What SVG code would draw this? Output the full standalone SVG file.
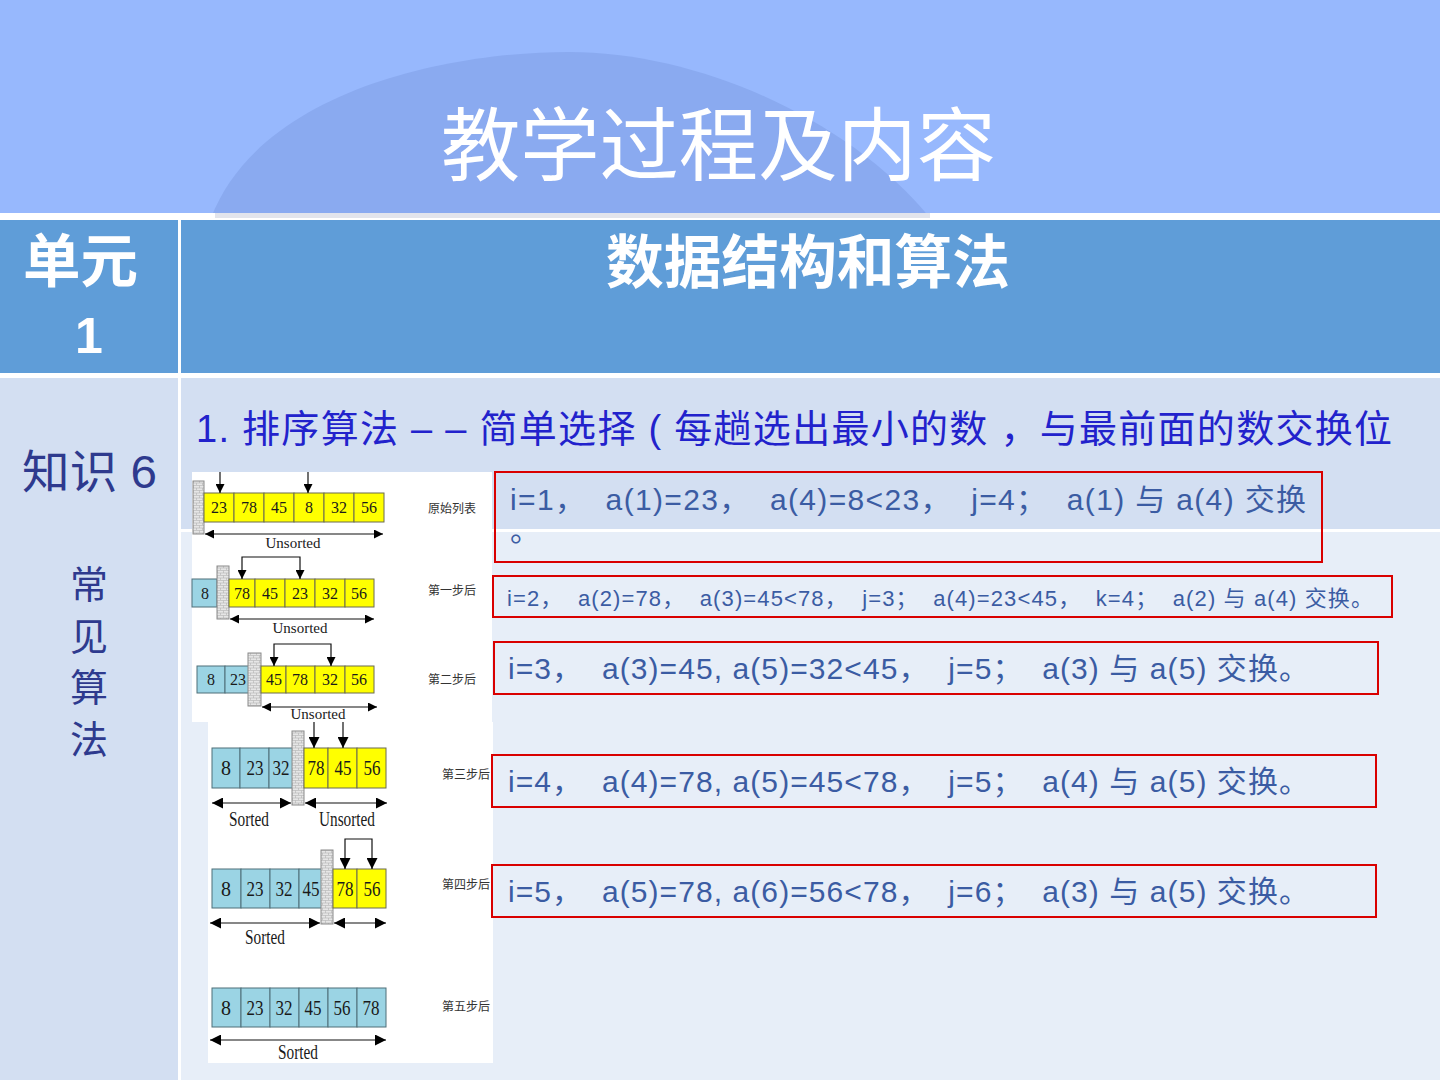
<svg xmlns="http://www.w3.org/2000/svg" width="1440" height="1080" viewBox="0 0 1440 1080">
<defs>
<style>
.cjk{font-family:"Noto Sans CJK SC","Liberation Sans",sans-serif}
.cell-y{fill:#FFFF00;stroke:#6b6b50;stroke-width:1}
.cell-b{fill:#9BD4E4;stroke:#4f6f78;stroke-width:1}
.wall{fill:url(#brick);stroke:#8a8a8a;stroke-width:1}
.num{font-family:"Liberation Serif",serif;fill:#1a1a1a;text-anchor:middle}
.n1{font-size:16px}
.n2{font-size:21px}
.cap{font-family:"Liberation Serif",serif;fill:#1a1a1a;text-anchor:middle}
.lbl{font-family:"Noto Sans CJK SC",sans-serif;font-size:12px;fill:#333}
.ln{stroke:#111;stroke-width:1.2;fill:none}
.red{fill:none;stroke:#D90000;stroke-width:2}
.step{font-family:"Liberation Sans","Noto Sans CJK SC",sans-serif;fill:#3B5CA3;white-space:pre}
.dk{font-family:"Liberation Sans","Noto Sans CJK SC",sans-serif;fill:#2E3A8E}
</style>
<pattern id="brick" width="6" height="5" patternUnits="userSpaceOnUse">
<rect width="6" height="5" fill="#E6E6E6"/>
<path d="M0 0.5H6M0 3H6M1.5 0.5V3M4.5 3V5" stroke="#B2B2B2" stroke-width="0.6" fill="none"/>
</pattern>
<marker id="ah" viewBox="0 0 10 10" refX="10" refY="5" markerWidth="11" markerHeight="9" markerUnits="userSpaceOnUse" orient="auto-start-reverse"><path d="M0 0L10 5L0 10z" fill="#000"/></marker>
<marker id="ahB" viewBox="0 0 10 10" refX="10" refY="5" markerWidth="14" markerHeight="11" markerUnits="userSpaceOnUse" orient="auto-start-reverse"><path d="M0 0L10 5L0 10z" fill="#000"/></marker>
</defs>

<g id="background">
<rect x="0" y="0" width="1440" height="1080" fill="#FFFFFF"/>
<rect x="0" y="0" width="1440" height="213" fill="#97B8FD"/>
<path d="M211 218C260 90 450 52 569 52C700 52 850 120 930 218Z" fill="#8AAAF0"/>
<rect x="0" y="213" width="1440" height="7" fill="#FFFFFF"/>
<rect x="215" y="213" width="715" height="5" fill="#E2E4EC"/>
</g>

<g id="title"><text class="cjk" x="441" y="174" font-size="80" fill="#FFFFFF" textLength="555" lengthAdjust="spacingAndGlyphs">教学过程及内容</text></g>

<g id="table">
<rect x="0" y="220" width="178" height="153" fill="#5F9DD8"/>
<rect x="181" y="220" width="1259" height="153" fill="#5F9DD8"/>
<rect x="0" y="378" width="178" height="702" fill="#D3DFF2"/>
<rect x="181" y="378" width="1259" height="151" fill="#D3DFF2"/>
<rect x="181" y="532" width="1259" height="548" fill="#E7EEF8"/>
</g>

<g id="header-unit">
<text class="cjk" x="23" y="282" font-size="58" font-weight="bold" fill="#FFFFFF" textLength="115" lengthAdjust="spacingAndGlyphs">单元</text>
<text x="89" y="353" font-family="Liberation Sans, sans-serif" font-size="50" font-weight="bold" fill="#FFFFFF" text-anchor="middle">1</text>
</g>
<g id="header-topic"><text class="cjk" x="606" y="283" font-size="58" font-weight="bold" fill="#FFFFFF" textLength="404" lengthAdjust="spacingAndGlyphs">数据结构和算法</text></g>

<g id="knowledge">
<text class="dk" x="22" y="488" font-size="46" textLength="135" lengthAdjust="spacingAndGlyphs">知识 6</text>
<text class="dk" x="89" y="598" font-size="38" text-anchor="middle">常</text>
<text class="dk" x="89" y="650" font-size="38" text-anchor="middle">见</text>
<text class="dk" x="89" y="701" font-size="38" text-anchor="middle">算</text>
<text class="dk" x="89" y="753" font-size="38" text-anchor="middle">法</text>
</g>

<g id="heading"><text x="196" y="442" font-family="Liberation Sans, Noto Sans CJK SC, sans-serif" font-size="38" fill="#2222CC" textLength="1196" lengthAdjust="spacing">1. 排序算法 – – 简单选择 ( 每趟选出最小的数 ，与最前面的数交换位</text></g>

<g id="sort-figure">
<rect x="192" y="472" width="300" height="250" fill="#FFFFFF"/>
<rect x="208" y="722" width="285" height="341" fill="#FFFFFF"/>

<g id="row0">
<rect class="wall" x="193" y="481" width="11" height="53"/>
<rect class="cell-y" x="204" y="493" width="30" height="29"/><rect class="cell-y" x="234" y="493" width="30" height="29"/><rect class="cell-y" x="264" y="493" width="30" height="29"/><rect class="cell-y" x="294" y="493" width="30" height="29"/><rect class="cell-y" x="324" y="493" width="30" height="29"/><rect class="cell-y" x="354" y="493" width="30" height="29"/>
<text class="num n1" x="219" y="513">23</text><text class="num n1" x="249" y="513">78</text><text class="num n1" x="279" y="513">45</text><text class="num n1" x="309" y="513">8</text><text class="num n1" x="339" y="513">32</text><text class="num n1" x="369" y="513">56</text>
<text class="cap" x="293" y="548" font-size="15">Unsorted</text>
<text class="lbl" x="428" y="513">原始列表</text>
</g>

<g id="row1">
<rect class="cell-b" x="192" y="579" width="25" height="28"/>
<rect class="wall" x="217" y="566" width="12" height="53"/>
<rect class="cell-y" x="229" y="579" width="26" height="28"/><rect class="cell-y" x="255" y="579" width="30" height="28"/><rect class="cell-y" x="285" y="579" width="30" height="28"/><rect class="cell-y" x="315" y="579" width="30" height="28"/><rect class="cell-y" x="345" y="579" width="29" height="28"/>
<text class="num n1" x="205" y="599">8</text><text class="num n1" x="242" y="599">78</text><text class="num n1" x="270" y="599">45</text><text class="num n1" x="300" y="599">23</text><text class="num n1" x="330" y="599">32</text><text class="num n1" x="359" y="599">56</text>
<text class="cap" x="300" y="633" font-size="15">Unsorted</text>
<text class="lbl" x="428" y="595">第一步后</text>
</g>

<g id="row2">
<rect class="cell-b" x="197" y="666" width="28" height="27"/><rect class="cell-b" x="225" y="666" width="25" height="27"/>
<rect class="wall" x="248" y="653" width="13" height="53"/>
<rect class="cell-y" x="261" y="666" width="25" height="27"/><rect class="cell-y" x="286" y="666" width="29" height="27"/><rect class="cell-y" x="315" y="666" width="30" height="27"/><rect class="cell-y" x="345" y="666" width="29" height="27"/>
<text class="num n1" x="211" y="685">8</text><text class="num n1" x="238" y="685">23</text><text class="num n1" x="274" y="685">45</text><text class="num n1" x="300" y="685">78</text><text class="num n1" x="330" y="685">32</text><text class="num n1" x="359" y="685">56</text>
<text class="cap" x="318" y="719" font-size="15">Unsorted</text>
<text class="lbl" x="428" y="684">第二步后</text>
</g>

<g id="row3">
<rect class="cell-b" x="212" y="748" width="28" height="40"/><rect class="cell-b" x="240" y="748" width="29" height="40"/><rect class="cell-b" x="269" y="748" width="24" height="40"/>
<rect class="wall" x="292" y="731" width="12" height="74"/>
<rect class="cell-y" x="304" y="748" width="24" height="40"/><rect class="cell-y" x="328" y="748" width="29" height="40"/><rect class="cell-y" x="357" y="748" width="29" height="40"/>
<text class="num n2" x="226" y="775" textLength="10" lengthAdjust="spacingAndGlyphs">8</text><text class="num n2" x="255" y="775" textLength="17" lengthAdjust="spacingAndGlyphs">23</text><text class="num n2" x="281" y="775" textLength="17" lengthAdjust="spacingAndGlyphs">32</text><text class="num n2" x="316" y="775" textLength="17" lengthAdjust="spacingAndGlyphs">78</text><text class="num n2" x="343" y="775" textLength="17" lengthAdjust="spacingAndGlyphs">45</text><text class="num n2" x="372" y="775" textLength="17" lengthAdjust="spacingAndGlyphs">56</text>
<text class="cap" x="249" y="826" font-size="20" textLength="40" lengthAdjust="spacingAndGlyphs">Sorted</text>
<text class="cap" x="347" y="826" font-size="20" textLength="56" lengthAdjust="spacingAndGlyphs">Unsorted</text>
<text class="lbl" x="442" y="779">第三步后</text>
</g>

<g id="row4">
<rect class="cell-b" x="212" y="869" width="29" height="39"/><rect class="cell-b" x="241" y="869" width="29" height="39"/><rect class="cell-b" x="270" y="869" width="29" height="39"/><rect class="cell-b" x="299" y="869" width="23" height="39"/>
<rect class="wall" x="321" y="850" width="12" height="74"/>
<rect class="cell-y" x="333" y="869" width="24" height="39"/><rect class="cell-y" x="357" y="869" width="29" height="39"/>
<text class="num n2" x="226" y="896" textLength="10" lengthAdjust="spacingAndGlyphs">8</text><text class="num n2" x="255" y="896" textLength="17" lengthAdjust="spacingAndGlyphs">23</text><text class="num n2" x="284" y="896" textLength="17" lengthAdjust="spacingAndGlyphs">32</text><text class="num n2" x="311" y="896" textLength="17" lengthAdjust="spacingAndGlyphs">45</text><text class="num n2" x="345" y="896" textLength="17" lengthAdjust="spacingAndGlyphs">78</text><text class="num n2" x="372" y="896" textLength="17" lengthAdjust="spacingAndGlyphs">56</text>
<text class="cap" x="265" y="944" font-size="20" textLength="40" lengthAdjust="spacingAndGlyphs">Sorted</text>
<text class="lbl" x="442" y="889">第四步后</text>
</g>

<g id="row5">
<rect class="cell-b" x="212" y="988" width="29" height="39"/><rect class="cell-b" x="241" y="988" width="29" height="39"/><rect class="cell-b" x="270" y="988" width="29" height="39"/><rect class="cell-b" x="299" y="988" width="29" height="39"/><rect class="cell-b" x="328" y="988" width="29" height="39"/><rect class="cell-b" x="357" y="988" width="29" height="39"/>
<text class="num n2" x="226" y="1015" textLength="10" lengthAdjust="spacingAndGlyphs">8</text><text class="num n2" x="255" y="1015" textLength="17" lengthAdjust="spacingAndGlyphs">23</text><text class="num n2" x="284" y="1015" textLength="17" lengthAdjust="spacingAndGlyphs">32</text><text class="num n2" x="313" y="1015" textLength="17" lengthAdjust="spacingAndGlyphs">45</text><text class="num n2" x="342" y="1015" textLength="17" lengthAdjust="spacingAndGlyphs">56</text><text class="num n2" x="371" y="1015" textLength="17" lengthAdjust="spacingAndGlyphs">78</text>
<text class="cap" x="298" y="1059" font-size="20" textLength="40" lengthAdjust="spacingAndGlyphs">Sorted</text>
<text class="lbl" x="442" y="1011">第五步后</text>
</g>
</g>

<g id="connectors">
<line class="ln" x1="220" y1="472" x2="220" y2="493" marker-end="url(#ah)"/>
<line class="ln" x1="308" y1="472" x2="308" y2="493" marker-end="url(#ah)"/>
<line class="ln" x1="205" y1="534" x2="383" y2="534" marker-start="url(#ah)" marker-end="url(#ah)"/>
<path class="ln" d="M242 579V557H300V579" marker-start="url(#ah)" marker-end="url(#ah)"/>
<line class="ln" x1="230" y1="619" x2="374" y2="619" marker-start="url(#ah)" marker-end="url(#ah)"/>
<path class="ln" d="M274 666V644H331V666" marker-start="url(#ah)" marker-end="url(#ah)"/>
<line class="ln" x1="262" y1="707" x2="377" y2="707" marker-start="url(#ah)" marker-end="url(#ah)"/>
<line class="ln" x1="314" y1="722" x2="314" y2="748" marker-end="url(#ahB)"/>
<line class="ln" x1="343" y1="722" x2="343" y2="748" marker-end="url(#ahB)"/>
<line class="ln" x1="212" y1="803" x2="291" y2="803" marker-start="url(#ahB)" marker-end="url(#ahB)"/>
<line class="ln" x1="305" y1="803" x2="387" y2="803" marker-start="url(#ahB)" marker-end="url(#ahB)"/>
<path class="ln" d="M345 869V839H372V869" marker-start="url(#ahB)" marker-end="url(#ahB)"/>
<line class="ln" x1="210" y1="923" x2="320" y2="923" marker-start="url(#ahB)" marker-end="url(#ahB)"/>
<line class="ln" x1="334" y1="923" x2="386" y2="923" marker-start="url(#ahB)" marker-end="url(#ahB)"/>
<line class="ln" x1="210" y1="1040" x2="386" y2="1040" marker-start="url(#ahB)" marker-end="url(#ahB)"/>
</g>

<g id="step1"><rect class="red" x="495" y="472" width="827" height="90"/>
<text class="step" x="510" y="510" font-size="30" textLength="796" lengthAdjust="spacing">i=1，  a(1)=23，  a(4)=8&lt;23，  j=4；  a(1) 与 a(4) 交换</text>
<text class="step" x="510" y="541" font-size="30">。</text></g>
<g id="step2"><rect class="red" x="493" y="576" width="899" height="41"/>
<text class="step" x="507" y="606" font-size="22" textLength="866" lengthAdjust="spacing">i=2，  a(2)=78，  a(3)=45&lt;78，  j=3；  a(4)=23&lt;45，  k=4；  a(2) 与 a(4) 交换。</text></g>
<g id="step3"><rect class="red" x="494" y="642" width="884" height="52"/>
<text class="step" x="508" y="679" font-size="30" textLength="801" lengthAdjust="spacing">i=3，  a(3)=45, a(5)=32&lt;45，  j=5；  a(3) 与 a(5) 交换。</text></g>
<g id="step4"><rect class="red" x="492" y="755" width="884" height="52"/>
<text class="step" x="508" y="792" font-size="30" textLength="801" lengthAdjust="spacing">i=4，  a(4)=78, a(5)=45&lt;78，  j=5；  a(4) 与 a(5) 交换。</text></g>
<g id="step5"><rect class="red" x="492" y="865" width="884" height="52"/>
<text class="step" x="508" y="902" font-size="30" textLength="801" lengthAdjust="spacing">i=5，  a(5)=78, a(6)=56&lt;78，  j=6；  a(3) 与 a(5) 交换。</text></g>
</svg>
